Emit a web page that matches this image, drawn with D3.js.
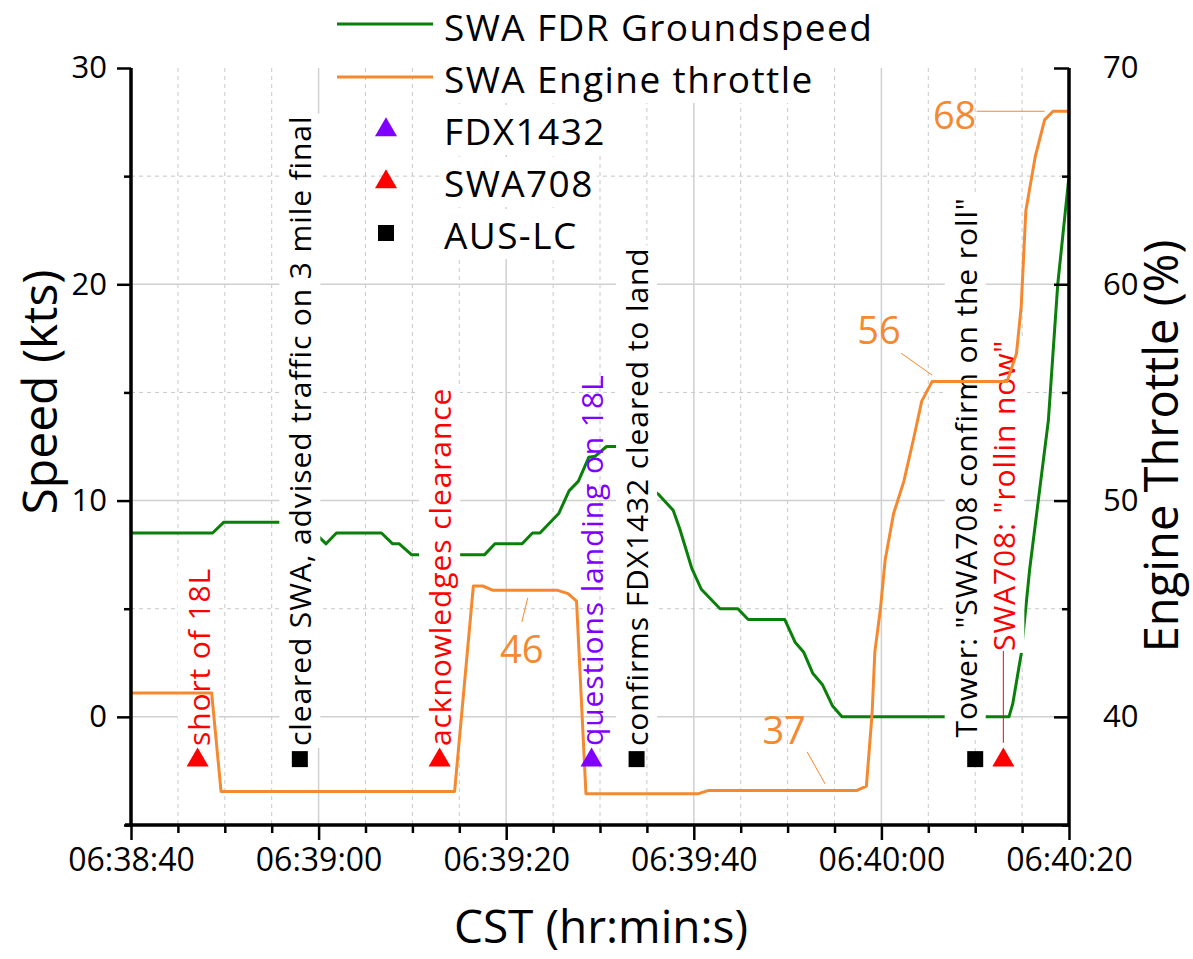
<!DOCTYPE html>
<html>
<head>
<meta charset="utf-8">
<script src="https://cdn.jsdelivr.net/npm/d3@7"></script>
<style>
  body { margin: 0; background: #fff; }
  text { font-family: "Open Sans", sans-serif; }
</style>
</head>
<body>
<div class="chart"></div>
<script>
// time is given in seconds after 06:38:40 CST
const startClock = "06:38:40";

// SWA FDR groundspeed (kts)
const gsSec = [0, 8.7, 9.9, 18.4, 20.8, 21.9, 26.7, 27.9, 28.6, 29.9, 37.7, 38.8, 41.7, 42.8, 43.6,
  45.6, 46.7, 47.7, 48.8, 49.5, 50.7, 52.7, 55.3, 56.2, 57.8, 58.5, 59.8, 60.8, 62.8, 64.7, 65.8,
  69.7, 70.8, 71.7, 72.7, 73.7, 74.8, 75.8, 93.6, 94.0, 94.9, 95.8, 96.9, 97.8, 98.8, 100];
const gsKts = [8.5, 8.5, 9.0, 9.0, 8.0, 8.5, 8.5, 8.0, 8.0, 7.5, 7.5, 8.0, 8.0, 8.5, 8.5,
  9.4, 10.45, 10.9, 12.0, 12.05, 12.5, 12.5, 10.6, 10.3, 9.55, 8.7, 6.85, 5.9, 5.0, 5.0, 4.5,
  4.5, 3.45, 3.0, 2.0, 1.5, 0.5, 0, 0, 0.6, 2.9, 6.8, 10.6, 13.7, 20.0, 25.0];

// SWA engine throttle (%)
const thrSec = [0, 8.6, 9.6, 34.5, 36.5, 37.5, 38.6, 45.5, 46.6, 47.5, 48.5, 60.5, 61.6, 77.4,
  78.4, 79.0, 79.3, 79.9, 80.4, 81.3, 82.4, 83.4, 84.3, 85.4, 93.4, 94.4, 94.9, 95.4, 96.4, 97.4, 98.3, 100];
const thrPct = [41.1, 41.1, 36.55, 36.55, 46.05, 46.05, 45.85, 45.85, 45.7, 45.35, 36.45, 36.45, 36.6, 36.6,
  36.8, 40.1, 43.0, 45.0, 47.25, 49.4, 50.9, 52.8, 54.6, 55.5, 55.5, 56.8, 58.95, 63.4, 65.9, 67.6, 68.0, 68.0];

// radio events
const fdxSec = [49.1];
const swaSec = [7.1, 32.9, 93.0];
const lcSec = [18.0, 53.9, 90.0];
const markerKts = -2;

const eventText = ["short of 18L", "cleared SWA, advised traffic on 3 mile final", "acknowledges clearance",
  "questions landing on 18L", "confirms FDX1432 cleared to land", "Tower: \"SWA708 confirm on the roll\"",
  "SWA708: \"rollin now\""];
const eventSec = [7.1, 18.0, 32.9, 49.1, 53.9, 90.0, 93.0];
const eventWho = ["SWA708", "AUS-LC", "SWA708", "FDX1432", "AUS-LC", "AUS-LC", "SWA708"];

// throttle callouts
const calloutText = ["68", "56", "46", "37"];
const calloutSec = [97.4, 85.4, 42.3, 74.0];
const calloutPct = [68.0, 55.8, 45.5, 36.9];

const yTicksL = [0, 10, 20, 30];
const yTicksR = [40, 50, 60, 70];

const legendNames = ["SWA FDR Groundspeed", "SWA Engine throttle", "FDX1432", "SWA708", "AUS-LC"];

const green = "#0a7f0a", orange = "#f5892f", red = "#ff0000", purple = "#7f00ff";
const whoColor = { "SWA708": red, "FDX1432": purple, "AUS-LC": "#000" };

const W = 1193, H = 959;
const margin = { top: 68, right: 124, bottom: 134, left: 131 };

const t0 = new Date("2000-01-01T" + startClock);
const at = (s) => new Date(t0.getTime() + s * 1000);

const x = d3.scaleTime().domain([at(0), at(100)]).range([margin.left, W - margin.right]);
const yL = d3.scaleLinear().domain([-5, 30]).range([H - margin.bottom, margin.top]);
const yR = d3.scaleLinear().domain([35, 70]).range([H - margin.bottom, margin.top]);

const svg = d3.select(".chart").append("svg").attr("width", W).attr("height", H);

// grid
const grid = svg.append("g");
const minorX = d3.range(5, 100, 5).filter((s) => s % 20 !== 0);
const majorX = [20, 40, 60, 80];
grid.selectAll(".gx-minor").data(minorX).enter().append("line")
  .attr("x1", (d) => x(at(d))).attr("x2", (d) => x(at(d)))
  .attr("y1", yL(30)).attr("y2", yL(-5))
  .attr("stroke", "#c8c8c8").attr("stroke-width", 1).attr("stroke-dasharray", "4,4");
grid.selectAll(".gx-major").data(majorX).enter().append("line")
  .attr("x1", (d) => x(at(d))).attr("x2", (d) => x(at(d)))
  .attr("y1", yL(30)).attr("y2", yL(-5))
  .attr("stroke", "#d0d0d0").attr("stroke-width", 1.5);
grid.selectAll(".gy-minor").data([5, 15, 25]).enter().append("line")
  .attr("x1", x.range()[0]).attr("x2", x.range()[1])
  .attr("y1", (d) => yL(d)).attr("y2", (d) => yL(d))
  .attr("stroke", "#c8c8c8").attr("stroke-width", 1).attr("stroke-dasharray", "4,4");
grid.selectAll(".gy-major").data([0, 10, 20]).enter().append("line")
  .attr("x1", x.range()[0]).attr("x2", x.range()[1])
  .attr("y1", (d) => yL(d)).attr("y2", (d) => yL(d))
  .attr("stroke", "#d0d0d0").attr("stroke-width", 1.5);

// groundspeed line
const gsData = gsSec.map((s, i) => ({ t: at(s), v: gsKts[i] }));
svg.append("path").datum(gsData)
  .attr("fill", "none").attr("stroke", green).attr("stroke-width", 3).attr("stroke-linejoin", "round")
  .attr("d", d3.line().x((d) => x(d.t)).y((d) => yL(d.v)));

// event labels (rotated)
const labelShift = [0.5, 0, 0, 0, 0, -10, 0.5];
const labelBottom = [-1.35, -1.35, -1.35, -1.35, -1.35, -0.95, 3.05];
const labels = svg.append("g");
eventText.forEach((txt, i) => {
  const lx = x(at(eventSec[i])) + labelShift[i];
  const ly = yL(labelBottom[i]);
  const g = labels.append("g").attr("transform", `translate(${lx},${ly}) rotate(-90)`);
  const t = g.append("text")
    .attr("x", 0).attr("y", 0)
    .attr("dominant-baseline", "central")
    .attr("font-size", 30).attr("letter-spacing", 0.9)
    .attr("fill", whoColor[eventWho[i]])
    .text(txt);
  if (eventWho[i] !== "FDX1432") {
    const len = t.node().getComputedTextLength();
    g.insert("rect", "text").attr("x", -2).attr("y", -20.5)
      .attr("width", len + 4).attr("height", 41).attr("fill", "#fff");
  }
});
// leader for the last SWA708 call
labels.append("line")
  .attr("x1", x(at(eventSec[6]))).attr("x2", x(at(eventSec[6])))
  .attr("y1", yL(3.05)).attr("y2", yL(-1.2))
  .attr("stroke", red).attr("stroke-width", 1);

// throttle line
const thrData = thrSec.map((s, i) => ({ t: at(s), v: thrPct[i] }));
svg.append("path").datum(thrData)
  .attr("fill", "none").attr("stroke", orange).attr("stroke-width", 3).attr("stroke-linejoin", "round")
  .attr("d", d3.line().x((d) => x(d.t)).y((d) => yR(d.v)));

// callouts: text offset from the pointed value
const calloutOffset = [[-90, 3], [-53, -46], [-6, 50], [-41, -55]];
const calloutLead = [[-68, 0], [-31, -22], [-6, 24], [-18, -32]];
calloutText.forEach((txt, i) => {
  const px = x(at(calloutSec[i])), py = yR(calloutPct[i]);
  svg.append("line")
    .attr("x1", px).attr("y1", py)
    .attr("x2", px + calloutLead[i][0]).attr("y2", py + calloutLead[i][1])
    .attr("stroke", orange).attr("stroke-width", 1);
  svg.append("text")
    .attr("x", px + calloutOffset[i][0]).attr("y", py + calloutOffset[i][1])
    .attr("text-anchor", "middle").attr("dominant-baseline", "central")
    .attr("font-size", 38).attr("fill", orange)
    .text(txt);
});

// markers
const tri = d3.symbol().type(d3.symbolTriangle).size(210);
const sq = d3.symbol().type(d3.symbolSquare).size(256);
svg.selectAll(".m-swa").data(swaSec).enter().append("path")
  .attr("d", tri).attr("fill", red)
  .attr("transform", (d) => `translate(${x(at(d))},${yL(markerKts)})`);
svg.selectAll(".m-fdx").data(fdxSec).enter().append("path")
  .attr("d", tri).attr("fill", purple)
  .attr("transform", (d) => `translate(${x(at(d))},${yL(markerKts)})`);
svg.selectAll(".m-lc").data(lcSec).enter().append("path")
  .attr("d", sq).attr("fill", "#000")
  .attr("transform", (d) => `translate(${x(at(d))},${yL(markerKts) - 1})`);

// axes
const fmt = d3.timeFormat("%H:%M:%S");
const xAxis = d3.axisBottom(x).tickValues(d3.range(0, 101, 20).map(at)).tickFormat(fmt).tickSize(15).tickPadding(8);
const xMinor = d3.axisBottom(x).tickValues(minorX.map(at)).tickFormat("").tickSize(8);
const gx = svg.append("g").attr("transform", `translate(0,${yL(-5)})`);
gx.append("g").call(xMinor);
gx.append("g").call(xAxis);

const gyl = svg.append("g").attr("transform", `translate(${margin.left},0)`);
gyl.append("g").call(d3.axisLeft(yL).tickValues([-5, 5, 15, 25]).tickFormat("").tickSize(7));
gyl.append("g").call(d3.axisLeft(yL).tickValues(yTicksL).tickSize(14).tickPadding(10));

const gyr = svg.append("g").attr("transform", `translate(${W - margin.right},0)`);
gyr.append("g").call(d3.axisRight(yR).tickValues([35, 45, 55, 65]).tickFormat("").tickSizeInner(-7).tickSizeOuter(0));
gyr.append("g").call(d3.axisRight(yR).tickValues(yTicksR).tickSizeInner(-15).tickSizeOuter(0).tickPadding(34));

svg.selectAll(".domain").attr("stroke", "#000").attr("stroke-width", 3);
svg.selectAll(".tick line").attr("stroke", "#000").attr("stroke-width", 2.5);
svg.selectAll(".tick text").attr("font-size", 31).attr("font-family", "Open Sans").attr("fill", "#000");
gx.selectAll(".tick text").attr("font-size", 32);
// bottom axis line a bit wider at the corners
gx.selectAll(".domain").attr("d", `M${margin.left - 6},0H${W - margin.right + 1}`);
gyl.selectAll(".domain").attr("d", `M0,${yL(30)}V${yL(-5)}`);
gyr.selectAll(".domain").attr("d", `M0,${yL(30)}V${yL(-5)}`);

// axis titles
svg.append("text").attr("transform", `translate(38,392) rotate(-90)`)
  .attr("text-anchor", "middle").attr("dominant-baseline", "central")
  .attr("font-size", 48).text("Speed (kts)");
svg.append("text").attr("transform", `translate(1160,446) rotate(-90)`)
  .attr("text-anchor", "middle").attr("dominant-baseline", "central")
  .attr("font-size", 47).text("Engine Throttle (%)");
svg.append("text").attr("x", 601).attr("y", 925)
  .attr("text-anchor", "middle").attr("dominant-baseline", "central")
  .attr("font-size", 46).text("CST (hr:min:s)");

// legend
const legend = svg.append("g");
const rowY = (i) => 26 + i * 52;
legendNames.forEach((name, i) => {
  const gText = legend.append("g");
  const t = gText.append("text").attr("x", 444).attr("y", rowY(i))
    .attr("dominant-baseline", "central").attr("font-size", 37).attr("letter-spacing", 1.4)
    .text(name);
  const len = t.node().getComputedTextLength();
  gText.insert("rect", "text").attr("x", 441).attr("y", rowY(i) - 25)
    .attr("width", len + 6).attr("height", 50).attr("fill", "#fff");
});
legend.append("line").attr("x1", 337).attr("x2", 433).attr("y1", rowY(0) - 2).attr("y2", rowY(0) - 2)
  .attr("stroke", green).attr("stroke-width", 3);
legend.append("line").attr("x1", 337).attr("x2", 433).attr("y1", rowY(1) - 1).attr("y2", rowY(1) - 1)
  .attr("stroke", orange).attr("stroke-width", 3);
legend.append("path").attr("d", tri).attr("fill", purple).attr("transform", `translate(386,${rowY(2)})`);
legend.append("path").attr("d", tri).attr("fill", red).attr("transform", `translate(386,${rowY(3)})`);
legend.append("path").attr("d", sq).attr("fill", "#000").attr("transform", `translate(386,${rowY(4) - 1})`);
</script>
</body>
</html>
